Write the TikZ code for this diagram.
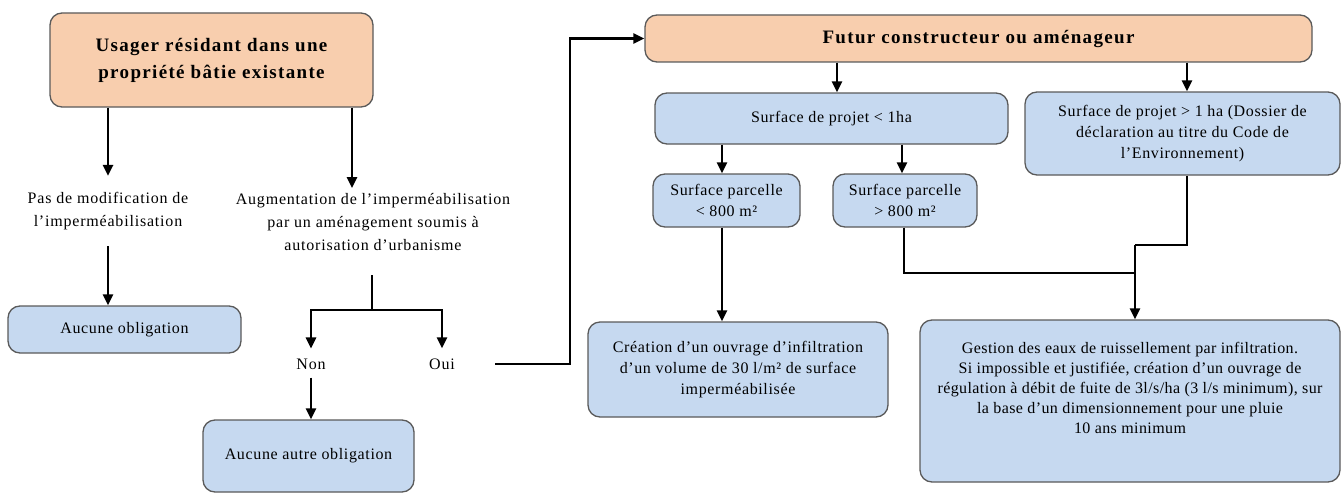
\documentclass[tikz,border=0pt]{standalone}
\usepackage{fontspec}
\setmainfont{Liberation Serif}
\usetikzlibrary{arrows.meta,calc}
\definecolor{peach}{HTML}{F8CEAE}
\definecolor{lblue}{HTML}{C6D9F0}
\definecolor{boxline}{HTML}{5A5A5A}
\newcommand\bodyf{\fontsize{16}{21}\selectfont\addfontfeature{LetterSpace=4}}
\newcommand\labf{\fontsize{16}{23}\selectfont\addfontfeature{LetterSpace=5}}
\newcommand\headf{\fontsize{19}{27}\selectfont\bfseries\addfontfeature{LetterSpace=7}}
\begin{document}
\begin{tikzpicture}[x=1pt,y=-1pt,
  basebox/.style={draw=boxline, line width=1.3pt, rounded corners=12pt, align=center, inner sep=3pt},
  headbox/.style={basebox, fill=peach, font=\headf},
  bluebox/.style={basebox, fill=lblue, font=\bodyf},
  lab/.style={align=center, font=\labf, inner sep=2pt},
  arr/.style={line width=2.5pt, -{Triangle[length=11pt,width=10pt]}},
  ln/.style={line width=2.5pt}]
\useasboundingbox (0,0) rectangle (1341,495);

% left part
\node[headbox, minimum width=323pt, minimum height=94pt] (u1) at (211.5,60) {Usager résidant dans une\\propriété bâtie existante};
\node[lab] (pasmod) at (108,211) {Pas de modification de\\l’imperméabilisation};
\node[lab] (augm) at (373,222) {Augmentation de l’imperméabilisation\\par un aménagement soumis à\\autorisation d’urbanisme};
\node[bluebox, minimum width=233pt, minimum height=47pt] (aucune) at (124.5,329.5) {Aucune obligation};
\node[lab] (non) at (311,364) {Non};
\node[lab] (oui) at (442,364) {Oui};
\node[bluebox, minimum width=211pt, minimum height=72pt] (autre) at (308.5,456) {Aucune autre obligation};

% right part
\node[headbox, minimum width=667pt, minimum height=47pt] (f) at (978.5,38.5) {Futur constructeur ou aménageur};
\node[bluebox, minimum width=353pt, minimum height=51pt] (s1) at (831.5,118.5) {Surface de projet < 1ha};
\node[bluebox, minimum width=315pt, minimum height=83pt] (s2) at (1182.5,133.5) {Surface de projet > 1 ha (Dossier de\\déclaration au titre du Code de\\l’Environnement)};
\node[bluebox, minimum width=147pt, minimum height=53pt] (p1) at (726.5,200.5) {Surface parcelle\\< 800 m²};
\node[bluebox, minimum width=144pt, minimum height=53pt] (p2) at (905,200.5) {Surface parcelle\\> 800 m²};
\node[bluebox, minimum width=300pt, minimum height=95pt] (c) at (738,369.5) {Création d’un ouvrage d’infiltration\\d’un volume de 30 l/m² de surface\\imperméabilisée};
\node[bluebox, minimum width=420pt, minimum height=162pt, font=\fontsize{16}{20}\selectfont\addfontfeature{LetterSpace=2.5}] (g) at (1130,401) {Gestion des eaux de ruissellement par infiltration.\\Si impossible et justifiée, création d’un ouvrage de\\régulation à débit de fuite de 3l/s/ha (3 l/s minimum), sur\\la base d’un dimensionnement pour une pluie\\10 ans minimum\\[6pt]};

% helper coordinates
\coordinate (augx) at (352,0);
\coordinate (splittop) at (372,275);
\coordinate (split) at (372,310);
\coordinate (turn) at (570,0);
\coordinate (s1in) at (837,0);
\coordinate (s2in) at (1187,0);
\coordinate (p1in) at (722,0);
\coordinate (p2in) at (902,0);
\coordinate (p2out) at (904,0);
\coordinate (join) at (1135,245);
\coordinate (p2low) at (904,273);

% connectors left
\draw[arr, shorten >=14pt] (u1.south -| pasmod.north) -- (pasmod.north);
\draw[arr] (u1.south -| augx) -- ($(augx |- augm.north)+(0,-3)$);
\draw[arr, shorten <=14pt] (pasmod.south) -- (aucune.north -| pasmod.south);
\draw[ln] (splittop) -- (split);
\draw[arr, shorten >=8pt] (split) -| (non.north);
\draw[arr, shorten >=8pt] (split) -| (oui.north);
\draw[arr, shorten <=6pt] (non.south) -- (autre.north -| non.south);
\draw[arr] ([xshift=38pt]oui.east) -- (oui.east -| turn) |- (f.west);

% connectors right
\draw[arr] (f.south -| s1in) -- (s1.north -| s1in);
\draw[arr] (f.south -| s2in) -- (s2.north -| s2in);
\draw[arr] (s1.south -| p1in) -- (p1.north -| p1in);
\draw[arr] (s1.south -| p2in) -- (p2.north -| p2in);
\draw[arr] (p1.south -| p1in) -- (c.north -| p1in);
\draw[ln] (p2.south -| p2out) -- (p2low) -| (join);
\draw[ln] (s2.south -| s2in) |- (join);
\draw[arr] (join) -- (g.north -| join);
\end{tikzpicture}
\end{document}
